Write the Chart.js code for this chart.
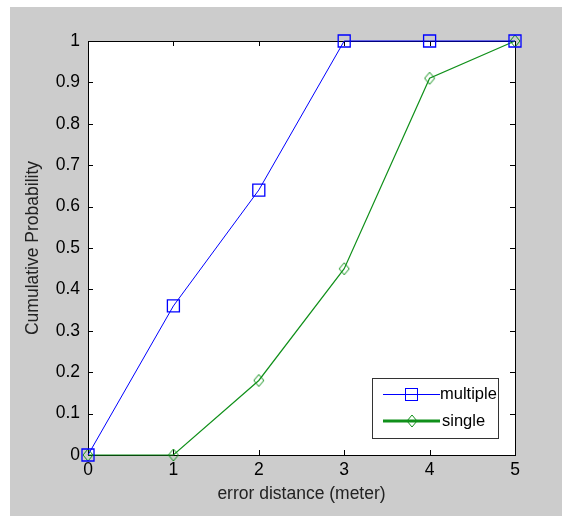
<!DOCTYPE html>
<html>
<head>
<meta charset="utf-8">
<script src="https://cdn.jsdelivr.net/npm/chart.js@4/dist/chart.umd.min.js"></script>
<style>
  html, body { margin: 0; padding: 0; background: #fff; }
  #wrap { width: 562px; height: 516px; }
</style>
</head>
<body>
<div id="wrap"><canvas id="cdf"></canvas></div>
<script>
// error distance in meters (x) and cumulative probability for each method
var distances = [0, 1, 2, 3, 4, 5];
var multipleValues = [0, 0.36, 0.64, 1, 1, 1];
var singleValues = [0, 0, 0.18, 0.45, 0.91, 1];
var xTicks = [0, 1, 2, 3, 4, 5];
var yTicks = [0, 0.1, 0.2, 0.3, 0.4, 0.5, 0.6, 0.7, 0.8, 0.9, 1];
var seriesNames = ['multiple', 'single'];

var BLUE = '#0000ff';
var GREEN = '#10901a';
var FONT = 'Liberation Sans, Arial, sans-serif';

// narrow diamond marker like MATLAB's 'd'
function makeDiamond(w, h, color) {
    var c = document.createElement('canvas');
    c.width = w + 2; c.height = h + 2;
    var g = c.getContext('2d');
    g.strokeStyle = color;
    g.lineWidth = 1;
    g.beginPath();
    g.moveTo(c.width / 2, 1);
    g.lineTo(c.width - 1, c.height / 2);
    g.lineTo(c.width / 2, c.height - 1);
    g.lineTo(1, c.height / 2);
    g.closePath();
    g.stroke();
    return c;
}
var diamond = makeDiamond(10, 12, GREEN);

function toPoints(xs, ys) {
    return xs.map(function (x, i) { return {x: x, y: ys[i]}; });
}

// gray figure background, white axes area
var background = {
    id: 'background',
    beforeDraw: function (chart) {
        var ctx = chart.ctx, a = chart.chartArea;
        ctx.save();
        ctx.fillStyle = '#ffffff';
        ctx.fillRect(0, 0, chart.width, chart.height);
        ctx.fillStyle = '#cccccc';
        ctx.fillRect(10, 7, chart.width - 10, chart.height - 7);
        ctx.fillStyle = '#ffffff';
        ctx.fillRect(a.left, a.top, a.right - a.left, a.bottom - a.top);
        ctx.restore();
    }
};

// box around the axes with inward ticks on all four sides
var axesBox = {
    id: 'axesBox',
    beforeDatasetsDraw: function (chart) {
        var ctx = chart.ctx, a = chart.chartArea;
        var xs = chart.scales.x, ys = chart.scales.y;
        var len = 5;
        ctx.save();
        ctx.strokeStyle = '#000';
        ctx.lineWidth = 1;
        ctx.beginPath();
        xTicks.forEach(function (v) {
            var px = Math.round(xs.getPixelForValue(v)) + 0.5;
            ctx.moveTo(px, a.bottom); ctx.lineTo(px, a.bottom - len);
            ctx.moveTo(px, a.top); ctx.lineTo(px, a.top + len);
        });
        yTicks.forEach(function (v) {
            var py = Math.round(ys.getPixelForValue(v)) + 0.5;
            ctx.moveTo(a.left, py); ctx.lineTo(a.left + len, py);
            ctx.moveTo(a.right, py); ctx.lineTo(a.right - len, py);
        });
        ctx.stroke();
        ctx.strokeRect(Math.round(a.left) + 0.5, Math.round(a.top) + 0.5,
            Math.round(a.right - a.left), Math.round(a.bottom - a.top));
        ctx.restore();
    }
};

// MATLAB style legend in the lower right corner
var matLegend = {
    id: 'matLegend',
    afterDraw: function (chart) {
        var ctx = chart.ctx, a = chart.chartArea;
        var bx = a.right - 143, by = a.bottom - 77, bw = 126, bh = 60;
        ctx.save();
        ctx.fillStyle = '#fff';
        ctx.fillRect(bx, by, bw, bh);
        ctx.strokeStyle = '#333';
        ctx.lineWidth = 1;
        ctx.strokeRect(bx + 0.5, by + 0.5, bw, bh);

        var y1 = by + 16.5, y2 = by + 43;
        // multiple
        ctx.strokeStyle = BLUE;
        ctx.lineWidth = 1;
        ctx.beginPath(); ctx.moveTo(bx + 11, y1); ctx.lineTo(bx + 68, y1); ctx.stroke();
        ctx.strokeRect(bx + 33.5, y1 - 6, 12, 12);
        // single
        ctx.strokeStyle = GREEN;
        ctx.lineWidth = 3;
        ctx.beginPath(); ctx.moveTo(bx + 11, y2); ctx.lineTo(bx + 68, y2); ctx.stroke();
        ctx.drawImage(diamond, bx + 34, y2 - 7);

        ctx.fillStyle = '#000';
        ctx.font = '16.5px ' + FONT;
        ctx.textBaseline = 'middle';
        ctx.fillText(seriesNames[0], bx + 68, y1);
        ctx.fillText(seriesNames[1], bx + 70, y2);
        ctx.restore();
    }
};

var ctx = document.getElementById('cdf').getContext('2d');
var chart = new Chart(ctx, {
    type: 'line',
    data: {
        datasets: [{
            label: seriesNames[1],
            data: toPoints(distances, singleValues),
            borderColor: GREEN,
            borderWidth: 1.2,
            pointStyle: diamond,
            pointRadius: 6,
            tension: 0,
            clip: false,
            fill: false,
            order: 2
        }, {
            label: seriesNames[0],
            data: toPoints(distances, multipleValues),
            borderColor: BLUE,
            borderWidth: 1,
            pointStyle: 'rect',
            pointRadius: 8.5,
            pointBorderWidth: 1.3,
            pointBackgroundColor: 'rgba(0,0,0,0)',
            pointBorderColor: BLUE,
            tension: 0,
            clip: false,
            fill: false,
            order: 1
        }]
    },
    options: {
        responsive: true,
        maintainAspectRatio: false,
        animation: false,
        events: [],
        layout: { padding: { left: 10, top: 41, right: 47, bottom: 0 } },
        plugins: { legend: { display: false }, tooltip: { enabled: false } },
        scales: {
            x: {
                type: 'linear',
                min: 0, max: 5,
                afterFit: function (s) { s.height = 61; },
                afterBuildTicks: function (s) { s.ticks = xTicks.map(function (v) { return {value: v}; }); },
                grid: { display: false, drawTicks: false },
                border: { display: false },
                ticks: { color: '#000', padding: 5, font: { family: FONT, size: 17.5 } },
                title: {
                    display: true, text: 'error distance (meter)', color: '#222',
                    font: { family: FONT, size: 17.5 }, padding: { top: 11, bottom: 11 }
                }
            },
            y: {
                type: 'linear',
                min: 0, max: 1,
                afterFit: function (s) { s.width = 78; },
                afterBuildTicks: function (s) { s.ticks = yTicks.map(function (v) { return {value: v}; }); },
                grid: { display: false, drawTicks: false },
                border: { display: false },
                ticks: {
                    color: '#000', padding: 8, font: { family: FONT, size: 17.5 },
                    callback: function (v) { return String(Math.round(v * 10) / 10); }
                },
                title: {
                    display: true, text: 'Cumulative Probability', color: '#222',
                    font: { family: FONT, size: 17.5 }, padding: { top: 13, bottom: 13 }
                }
            }
        }
    },
    plugins: [background, axesBox, matLegend]
});
</script>
</body>
</html>
